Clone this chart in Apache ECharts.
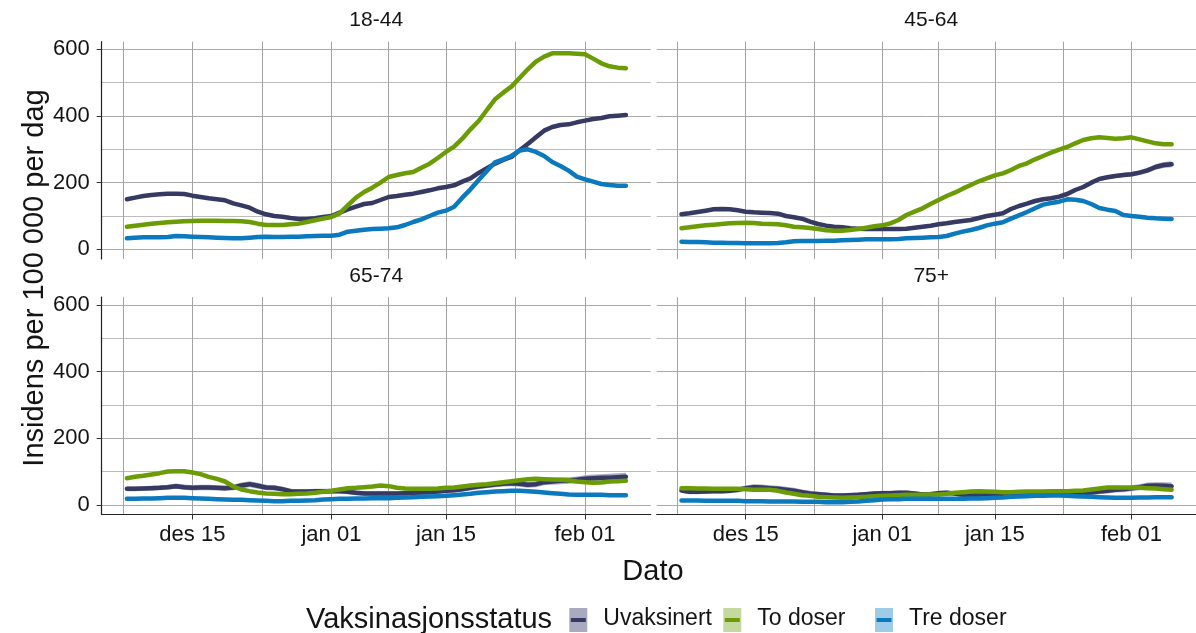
<!DOCTYPE html>
<html lang="no">

<head>
  <meta charset="UTF-8">
  <title>Insidens per 100 000 per dag</title>
  <style>
    html,
    body {
      margin: 0;
      padding: 0;
      background: #fff;
    }

    #main {
      width: 1196px;
      height: 633px;
    }
  </style>
</head>

<body>
  <div id="main"></div>
  <script src="https://cdn.jsdelivr.net/npm/echarts@6.0.0/dist/echarts.min.js"></script>
  <script>
    // x = dag nr. (0 = 1. des 2021), første punkt er 7. des (dag 6), siste 6. feb (dag 67)
    var firstDay = 6;
    var xTicks = [14, 31, 45, 62];
    var xTickLabels = ['des 15', 'jan 01', 'jan 15', 'feb 01'];
    var xMinorTicks = [5.5, 22.5, 38, 53.5];
    var yTicks = [0, 200, 400, 600];
    var yMinorTicks = [100, 300, 500];
    var panelNames = ['18-44', '45-64', '65-74', '75+'];
    var statusNames = ['Uvaksinert', 'To doser', 'Tre doser'];

    var uvak_18_44 = [150, 155, 160, 163, 165, 167, 167, 166, 161, 157, 153, 150, 147, 138, 132, 125, 113, 105, 100, 98, 94, 91, 91, 93, 97, 100, 110, 120, 128, 136, 139, 148, 157, 160, 164, 167, 172, 177, 183, 187, 192, 203, 213, 229, 243, 257, 268, 277, 297, 316, 336, 356, 367, 373, 375, 381, 386, 391, 394, 399, 401, 403];
    var todos_18_44 = [68, 71, 74, 77, 79, 81, 83, 84, 85, 86, 86, 86, 85, 85, 84, 82, 77, 73, 73, 73, 75, 77, 82, 87, 92, 97, 108, 132, 155, 172, 185, 200, 217, 223, 228, 232, 245, 257, 274, 292, 308, 332, 360, 385, 418, 450, 470, 488, 514, 540, 563, 578, 588, 588, 588, 587, 585, 572, 558, 549, 545, 543];
    var tre_18_44 = [33, 35, 36, 36, 36, 37, 40, 39, 38, 37, 36, 35, 34, 33, 33, 35, 37, 38, 37, 37, 38, 38, 39, 40, 41, 41, 44, 53, 56, 59, 61, 62, 63, 66, 73, 82, 90, 100, 110, 116, 128, 155, 180, 208, 235, 261, 270, 280, 296, 300, 292, 280, 262, 250, 236, 218, 210, 203, 196, 193, 191, 191];

    var uvak_45_64 = [105, 108, 112, 116, 120, 121, 120, 117, 113, 111, 110, 109, 107, 100, 96, 92, 83, 76, 71, 68, 66, 63, 62, 61, 61, 61, 61, 61, 62, 65, 68, 71, 75, 78, 82, 85, 88, 94, 100, 104, 108, 121, 130, 137, 145, 150, 153, 158, 166, 178, 187, 200, 211, 216, 220, 223, 225, 230, 237, 247, 253, 255];
    var todos_45_64 = [63, 66, 69, 72, 74, 76, 78, 79, 80, 79, 77, 76, 75, 72, 68, 66, 64, 61, 57, 56, 56, 58, 61, 65, 69, 72, 78, 88, 103, 113, 123, 136, 148, 160, 170, 182, 193, 204, 213, 222, 228, 238, 250, 258, 270, 280, 290, 299, 307, 318, 328, 333, 336, 334, 332, 333, 336, 330, 324, 318, 315, 315];
    var tre_45_64 = [23, 22, 22, 21, 20, 20, 19, 19, 18, 18, 18, 18, 19, 21, 24, 25, 25, 25, 26, 26, 27, 28, 29, 30, 30, 30, 30, 31, 33, 34, 35, 36, 37, 40, 47, 53, 58, 64, 72, 77, 81, 92, 102, 112, 123, 134, 139, 143, 150, 149, 145, 136, 124, 119, 115, 103, 100, 98, 95, 93, 92, 91];

    var uvak_65_74 = [48, 48, 49, 50, 51, 53, 56, 53, 51, 52, 52, 51, 50, 52, 58, 62, 57, 52, 51, 47, 41, 40, 40, 41, 41, 41, 41, 39, 36, 34, 34, 34, 34, 34, 35, 36, 37, 38, 40, 42, 44, 47, 51, 55, 58, 61, 63, 65, 63, 60, 62, 68, 70, 72, 73, 75, 78, 80, 81, 81, 83, 84];
    var todos_65_74 = [80, 84, 87, 91, 95, 100, 101, 101, 97, 92, 84, 78, 70, 55, 46, 41, 37, 34, 33, 32, 32, 33, 34, 36, 39, 42, 46, 50, 51, 53, 55, 58, 56, 51, 49, 48, 48, 48, 49, 51, 52, 55, 58, 60, 62, 65, 68, 71, 74, 77, 78, 77, 76, 75, 74, 70, 68, 66, 67, 70, 71, 72];
    var tre_65_74 = [18, 18, 19, 19, 20, 21, 21, 21, 20, 19, 18, 17, 16, 15, 15, 14, 13, 12, 11, 11, 12, 12, 13, 14, 16, 17, 18, 18, 19, 19, 20, 20, 20, 21, 22, 23, 24, 25, 26, 27, 29, 31, 33, 36, 38, 40, 41, 42, 42, 41, 39, 37, 35, 33, 31, 30, 30, 30, 30, 29, 29, 29];

    var uvak_75 = [43, 39, 39, 40, 41, 41, 42, 45, 50, 53, 52, 50, 48, 45, 42, 38, 34, 32, 30, 28, 28, 29, 30, 32, 34, 35, 35, 36, 36, 34, 31, 32, 35, 36, 34, 30, 28, 30, 32, 32, 33, 33, 33, 33, 32, 31, 30, 31, 32, 33, 35, 37, 40, 42, 45, 47, 50, 53, 57, 58, 57, 56];
    var todos_75 = [50, 50, 49, 49, 48, 48, 48, 48, 47, 45, 45, 45, 42, 37, 33, 29, 27, 24, 23, 22, 21, 22, 23, 24, 26, 27, 28, 29, 30, 30, 30, 31, 31, 33, 36, 38, 40, 41, 40, 39, 38, 38, 39, 40, 40, 40, 41, 41, 41, 42, 43, 46, 49, 52, 52, 52, 52, 51, 50, 49, 47, 45];
    var tre_75 = [13, 13, 13, 12, 12, 12, 12, 12, 11, 11, 11, 10, 10, 10, 10, 9, 9, 9, 8, 8, 8, 9, 10, 12, 14, 16, 17, 17, 18, 18, 18, 18, 18, 18, 18, 18, 19, 19, 20, 21, 22, 24, 25, 26, 27, 27, 28, 28, 27, 26, 25, 24, 23, 22, 21, 21, 21, 22, 22, 23, 23, 23];

    // halv bredde på konfidensbåndet for uvaksinerte (anslått)
    var uvak_ci_45_64 = [4, 4, 4, 4, 4, 4, 4, 4, 4, 4, 4, 4, 4, 4, 4, 4, 4, 4, 4, 4, 4, 4, 4, 4, 4, 4, 4, 4, 4, 4, 4, 4, 4, 4, 4, 4, 4, 4, 4, 4, 5, 5, 5, 5, 5, 5, 5, 5, 5, 5, 6, 6, 6, 6, 6, 7, 7, 7, 8, 8, 9, 9];
    var uvak_ci_65_74 = [7, 7, 7, 7, 7, 7, 8, 8, 8, 8, 8, 8, 8, 8, 9, 9, 9, 8, 8, 8, 7, 7, 7, 7, 7, 7, 7, 7, 7, 7, 7, 7, 7, 7, 7, 7, 7, 7, 7, 7, 7, 7, 8, 8, 8, 8, 8, 9, 9, 9, 9, 9, 10, 10, 10, 10, 11, 11, 11, 12, 12, 12];
    var uvak_ci_75 = [7, 7, 7, 7, 7, 7, 7, 8, 8, 9, 9, 9, 9, 9, 9, 8, 8, 8, 7, 7, 7, 7, 7, 7, 7, 7, 7, 7, 7, 7, 7, 7, 7, 7, 7, 7, 7, 7, 7, 7, 7, 7, 7, 7, 7, 7, 7, 7, 7, 7, 7, 7, 8, 8, 8, 9, 9, 9, 10, 10, 11, 11];

    var panelData = [
      [uvak_18_44, todos_18_44, tre_18_44],
      [uvak_45_64, todos_45_64, tre_45_64],
      [uvak_65_74, todos_65_74, tre_65_74],
      [uvak_75, todos_75, tre_75]
    ];
    var panelCi = [null, uvak_ci_45_64, uvak_ci_65_74, uvak_ci_75];

    var lineColors = ['#363a62', '#6b9c06', '#0b79bd'];
    var keyColors = ['#a9aac0', '#c4d99d', '#9dcbe8'];
    var font = '"Liberation Sans", Arial, sans-serif';
    var textColor = '#141414';

    // panel-plassering (px)
    var panelLeft = [101.7, 656.7, 101.7, 656.7];
    var panelTop = [41.7, 41.7, 297.2, 297.2];
    var panelW = 549, panelH = 217.3;
    var xMin = 2.92, xMax = 70.03;
    var yMin = -29, yMax = 622.8;

    function toPoints(arr) {
      return arr.map(function (v, i) {
        return [firstDay + i, v];
      });
    }

    var grids = [], xAxes = [], yAxes = [], series = [], graphics = [];

    panelNames.forEach(function (name, p) {
      var isLeft = p % 2 == 0;
      var isBottom = p >= 2;
      grids.push({
        left: panelLeft[p],
        top: panelTop[p],
        width: panelW,
        height: panelH
      });
      // hovedakse x
      xAxes.push({
        type: 'value',
        gridIndex: p,
        min: xMin,
        max: xMax,
        axisLine: { show: isBottom, onZero: false, lineStyle: { color: '#222', width: 1.2 } },
        axisTick: { show: isBottom, customValues: xTicks, length: 5, lineStyle: { color: '#333' } },
        axisLabel: {
          show: isBottom,
          customValues: xTicks,
          margin: 9,
          fontSize: 22,
          fontFamily: font,
          color: textColor,
          formatter: function (v) {
            var k = xTicks.indexOf(v);
            return k >= 0 ? xTickLabels[k] : '';
          }
        },
        splitLine: { show: true, lineStyle: { color: '#a3a3a3', width: 1 } }
      });
      // minor x-gitter
      xAxes.push({
        type: 'value',
        gridIndex: p,
        min: xMin,
        max: xMax,
        axisLine: { show: false },
        axisTick: { show: false, customValues: xMinorTicks },
        axisLabel: { show: false },
        splitLine: { show: true, lineStyle: { color: '#a3a3a3', width: 1 } }
      });
      yAxes.push({
        type: 'value',
        gridIndex: p,
        min: yMin,
        max: yMax,
        position: 'left',
        axisLine: { show: isLeft, onZero: false, lineStyle: { color: '#222', width: 1.2 } },
        axisTick: { show: isLeft, customValues: yTicks, length: 5, lineStyle: { color: '#333' } },
        axisLabel: {
          show: isLeft,
          customValues: yTicks,
          margin: 12,
          fontSize: 22,
          fontFamily: font,
          color: textColor
        },
        splitLine: { show: true, lineStyle: { color: '#a9a9a9', width: 1 } }
      });
      yAxes.push({
        type: 'value',
        gridIndex: p,
        min: yMin,
        max: yMax,
        position: 'left',
        axisLine: { show: false },
        axisTick: { show: false, customValues: yMinorTicks },
        axisLabel: { show: false },
        splitLine: { show: true, lineStyle: { color: '#bcbcbc', width: 1 } }
      });

      // konfidensbånd som polygon gjennom aksene
      var ci = panelCi[p];
      if (ci) {
        var base = panelData[p][0];
        var band = base.map(function (v, i) {
          return [firstDay + i, v - ci[i], v + ci[i]];
        });
        series.push({
          type: 'custom',
          xAxisIndex: 2 * p,
          yAxisIndex: 2 * p,
          data: band,
          encode: { x: 0, y: [1, 2] },
          z: 2,
          silent: true,
          renderItem: (function (band) {
            return function (params, api) {
              if (params.dataIndex !== 0) return null;
              var pts = [];
              band.forEach(function (d) { pts.push(api.coord([d[0], d[2]])); });
              for (var i = band.length - 1; i >= 0; i--) {
                pts.push(api.coord([band[i][0], band[i][1]]));
              }
              return {
                type: 'polygon',
                shape: { points: pts },
                style: { fill: keyColors[0] }
              };
            };
          })(band)
        });
      }

      panelData[p].forEach(function (arr, s) {
        series.push({
          name: statusNames[s],
          type: 'line',
          xAxisIndex: 2 * p,
          yAxisIndex: 2 * p,
          data: toPoints(arr),
          showSymbol: false,
          symbol: 'none',
          smooth: false,
          lineStyle: { color: lineColors[s], width: 4.5, cap: 'round', join: 'round' },
          itemStyle: { color: lineColors[s] },
          z: 3 + s,
          silent: true
        });
      });

      // facett-tittel
      graphics.push({
        type: 'text',
        x: panelLeft[p] + panelW / 2,
        y: panelTop[p] - 21,
        style: {
          text: name,
          fontSize: 21,
          fontFamily: font,
          fill: textColor,
          align: 'center',
          verticalAlign: 'middle'
        }
      });
    });

    // aksetitler
    graphics.push({
      type: 'text',
      x: 35,
      y: 278,
      rotation: Math.PI / 2,
      style: {
        text: 'Insidens per 100 000 per dag',
        fontSize: 29,
        fontFamily: font,
        fill: textColor,
        align: 'center',
        verticalAlign: 'middle'
      }
    });
    graphics.push({
      type: 'text',
      x: 653,
      y: 572,
      style: {
        text: 'Dato',
        fontSize: 29,
        fontFamily: font,
        fill: textColor,
        align: 'center',
        verticalAlign: 'middle'
      }
    });

    // legende nederst
    graphics.push({
      type: 'text',
      x: 306,
      y: 620,
      style: {
        text: 'Vaksinasjonsstatus',
        fontSize: 29,
        fontFamily: font,
        fill: textColor,
        align: 'left',
        verticalAlign: 'middle'
      }
    });
    var keyX = [569.3, 723.3, 875];
    statusNames.forEach(function (name, s) {
      graphics.push({
        type: 'rect',
        shape: { x: keyX[s], y: 608, width: 18, height: 24 },
        style: { fill: keyColors[s] }
      });
      graphics.push({
        type: 'line',
        shape: { x1: keyX[s] + 1.5, y1: 620, x2: keyX[s] + 16.5, y2: 620 },
        style: { stroke: lineColors[s], lineWidth: 4 }
      });
      graphics.push({
        type: 'text',
        x: keyX[s] + 34,
        y: 619,
        style: {
          text: name,
          fontSize: 23,
          fontFamily: font,
          fill: textColor,
          align: 'left',
          verticalAlign: 'middle'
        }
      });
    });

    var myChart = echarts.init(document.getElementById('main'));
    var option = {
      backgroundColor: '#fff',
      animation: false,
      grid: grids,
      xAxis: xAxes,
      yAxis: yAxes,
      series: series,
      graphic: graphics
    };
    myChart.setOption(option);
  </script>
</body>

</html>
